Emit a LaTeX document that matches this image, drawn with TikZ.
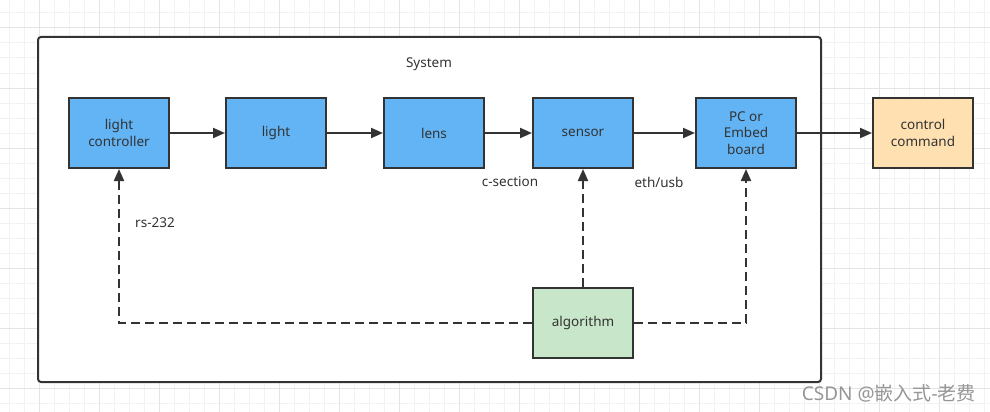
\documentclass[tikz,border=0pt]{standalone}
\usepackage{fontspec}
\setmainfont{Noto Sans}
\newfontfamily\cjk{Noto Sans CJK SC}
\usetikzlibrary{arrows.meta}
\definecolor{boxblue}{RGB}{99,180,245}
\definecolor{boxpeach}{RGB}{255,224,176}
\definecolor{boxgreen}{RGB}{200,230,201}
\definecolor{ink}{RGB}{51,51,51}
\definecolor{wmgray}{RGB}{150,150,150}
\definecolor{gridminor}{RGB}{242,242,242}
\definecolor{gridmajor}{RGB}{228,228,228}
\tikzset{
  blk/.style={draw=ink, line width=2pt, minimum width=100pt, minimum height=70pt, inner sep=0pt, align=center, text=ink, font=\fontsize{13.5}{16.5}\selectfont},
  bluebox/.style={blk, fill=boxblue},
  flow/.style={draw=ink, line width=2pt, -{Triangle[length=12pt,width=10pt]}},
  dflow/.style={flow, dash pattern=on 9pt off 5pt},
  lbl/.style={text=ink, font=\fontsize{13.5}{16.5}\selectfont, inner sep=0pt},
}
\begin{document}
\begin{tikzpicture}[x=1pt,y=-1pt]
\useasboundingbox (0,0) rectangle (990,412);
\fill[white] (0,0) rectangle (990,412);
% grid
\foreach \i in {0,...,65} {\draw[gridminor, line width=1pt] ({9+15*\i},0) -- ({9+15*\i},412);}
\foreach \j in {0,...,27} {\draw[gridminor, line width=1pt] (0,{13+15*\j}) -- (990,{13+15*\j});}
\foreach \i in {0,...,16} {\draw[gridmajor, line width=1pt] ({39+60*\i},0) -- ({39+60*\i},412);}
\foreach \j in {0,...,6} {\draw[gridmajor, line width=1pt] (0,{28+60*\j}) -- (990,{28+60*\j});}
% container
\draw[ink, line width=2pt, fill=white, rounded corners=3pt] (38,37) rectangle (821,382);
\node[lbl] (sys) at (429,64) {System};
% boxes
\node[bluebox] (lc) at (119,133) {light\\controller};
\node[bluebox] (li) at (276,133) {light};
\node[bluebox] (le) at (434,133) {lens};
\node[bluebox] (se) at (583,133) {sensor};
\node[bluebox] (pc) at (746,133) {PC or\\Embed\\board};
\node[blk, fill=boxpeach] (cc) at (923,133) {control\\command};
\node[blk, fill=boxgreen] (al) at (583,323) {algorithm};
% arrows
\draw[flow] (lc) -- (li);
\draw[flow] (li) -- (le);
\draw[flow] (le) -- (se);
\draw[flow] (se) -- (pc);
\draw[flow] (pc) -- (cc);
\draw[dflow] (al.west) -| (lc.south);
\draw[dflow] (al.north) -- (se.south);
\draw[dflow] (al.east) -| (pc.south);
% labels
\node[lbl] (cs) at (510,182) {c-section};
\node[lbl] (eu) at (659,182) {eth/usb};
\node[lbl] (rs) at (155,223) {rs-232};
\node[text=wmgray, font=\fontsize{19}{21}\selectfont, inner sep=0pt, anchor=east] (wm) at (976,393) {CSDN @{\cjk 嵌入式}-{\cjk 老费}};
\end{tikzpicture}
\end{document}
